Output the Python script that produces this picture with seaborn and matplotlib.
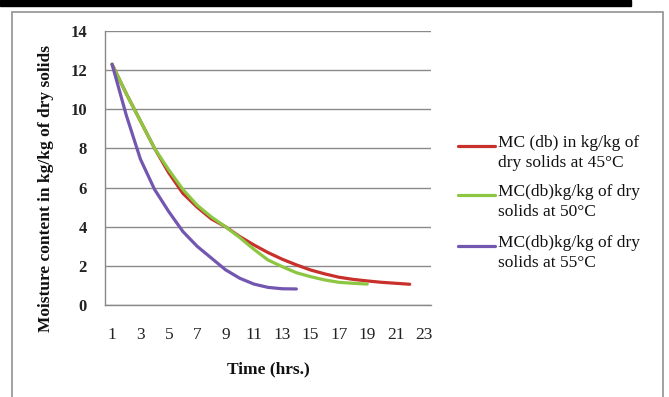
import numpy as np
import pandas as pd
import matplotlib
matplotlib.use("Agg")
import matplotlib.pyplot as plt
from matplotlib.lines import Line2D
from matplotlib.patches import Rectangle
from matplotlib.ticker import FixedLocator
import seaborn as sns

# ---- data ----
time_45 = list(range(1, 23))
mc_45 = [12.3, 10.8, 9.4, 8.0, 6.75, 5.7, 5.0, 4.4, 4.0, 3.5, 3.07, 2.68,
         2.34, 2.05, 1.79, 1.59, 1.42, 1.31, 1.23, 1.16, 1.11, 1.06]
time_50 = list(range(1, 20))
mc_50 = [12.3, 10.8, 9.4, 8.0, 6.9, 5.9, 5.1, 4.5, 4.0, 3.45, 2.85, 2.3,
         1.96, 1.65, 1.45, 1.28, 1.16, 1.11, 1.07]
time_55 = list(range(1, 15))
mc_55 = [12.3, 9.7, 7.45, 5.9, 4.77, 3.75, 3.0, 2.4, 1.8, 1.37, 1.07, 0.9,
         0.83, 0.82]

series_labels = ["MC (db) in kg/kg of\ndry solids at 45°C",
                 "MC(db)kg/kg of dry\nsolids at 50°C",
                 "MC(db)kg/kg of dry\nsolids at 55°C"]
x_tick_labels = [str(v) for v in range(1, 24, 2)]
y_ticks = list(range(0, 15, 2))
x_label = "Time (hrs.)"
y_label = "Moisture content in kg/kg of dry solids"

colors = ["#C8302C", "#8DC641", "#7356B0"]

df = pd.concat([
    pd.DataFrame({"time": time_45, "mc": mc_45, "series": series_labels[0]}),
    pd.DataFrame({"time": time_50, "mc": mc_50, "series": series_labels[1]}),
    pd.DataFrame({"time": time_55, "mc": mc_55, "series": series_labels[2]}),
], ignore_index=True)

sns.set_style("white")
plt.rcParams["font.family"] = ["Liberation Serif", "DejaVu Serif"]

W, H = 669, 397
fig = plt.figure(figsize=(W / 100, H / 100), dpi=100)
ax = fig.add_axes([105 / W, 1 - 305 / H, 326 / W, 274 / H])

sns.lineplot(data=df, x="time", y="mc", hue="series", palette=colors,
             linewidth=2.3, legend=False, ax=ax, sort=False)

ax.set_xlim(0.5, 23.5)
ax.set_ylim(0, 14)
ax.set_yticks(y_ticks)
ax.set_yticklabels([str(v) for v in y_ticks], fontsize=12, fontweight="bold",
                   color="#222222")
ax.xaxis.set_major_locator(FixedLocator(list(range(1, 24, 2))))
ax.set_xticklabels(x_tick_labels, fontsize=12.5, color="#222222")
ax.xaxis.set_minor_locator(FixedLocator([k + 0.5 for k in range(0, 24)]))
ax.tick_params(axis="x", which="major", length=0, pad=16)
ax.tick_params(axis="x", which="minor", length=4, color="#888888", width=1,
               direction="out")
ax.tick_params(axis="y", which="major", length=4, color="#888888", width=1,
               direction="out", pad=9)

ax.grid(axis="y", color="#8a8a8a", linewidth=1)
ax.grid(axis="x", visible=False)
for s in ["top", "right"]:
    ax.spines[s].set_visible(False)
for s in ["left", "bottom"]:
    ax.spines[s].set_color("#888888")
    ax.spines[s].set_linewidth(1)

ax.set_xlabel("")
ax.set_ylabel("")
fig.text(268 / W, 1 - 369 / H, x_label, ha="center", va="center",
         fontsize=12.5, fontweight="bold", color="#111111")
fig.text(46 / W, 1 - 189 / H, y_label, ha="center", va="center",
         rotation=90, fontsize=12.5, fontweight="bold", color="#111111")

# manual legend (handle aligned with first text line, as in the reference)
for lab, col, yc in zip(series_labels, colors, [146, 195, 246]):
    fig.add_artist(Line2D([458 / W, 495 / W], [1 - yc / H, 1 - yc / H],
                          color=col, linewidth=2.3,
                          transform=fig.transFigure))
    fig.text(498 / W, 1 - (yc - 11) / H, lab, ha="left", va="top",
             fontsize=12.5, linespacing=1.3, color="#111111")

# decorations: black bar at top and chart border
fig.add_artist(Rectangle((0, 1 - 6 / H), 631 / W, 6 / H, color="black",
                         transform=fig.transFigure, zorder=5))
fig.add_artist(Rectangle((12 / W, -0.05), (663 - 12) / W, 1 - 12 / H + 0.05,
                         fill=False, edgecolor="#9a9a9a", linewidth=1.3,
                         transform=fig.transFigure, zorder=5))

fig.savefig("out.png", dpi=100)
